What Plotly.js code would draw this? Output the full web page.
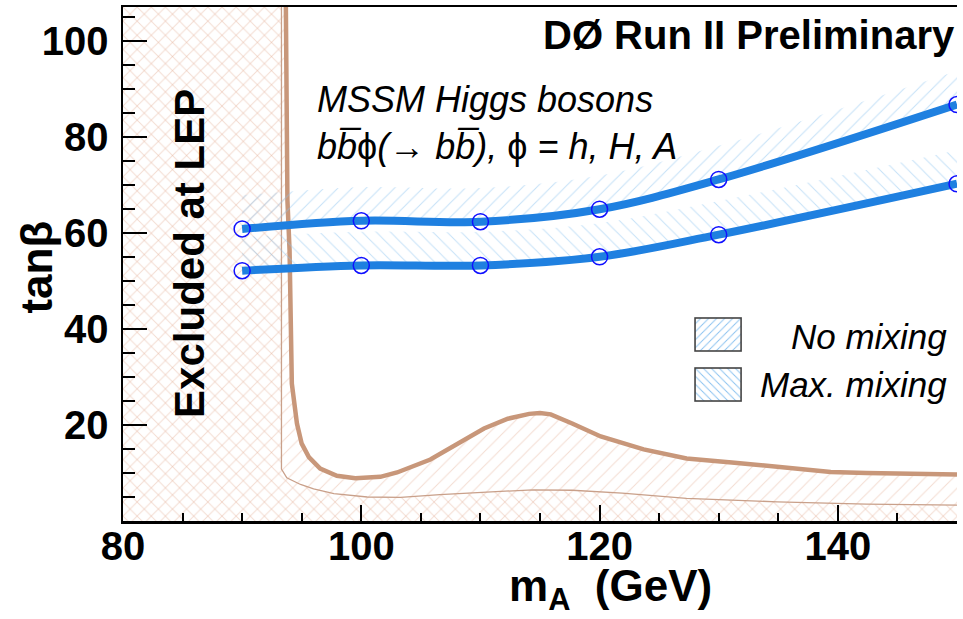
<!DOCTYPE html>
<html>
<head>
<meta charset="utf-8">
<script src="https://cdn.plot.ly/plotly-3.0.1.min.js"></script>
<style>html,body{margin:0;padding:0;background:#fff}#chart{width:963px;height:619px}</style>
</head>
<body>
<div id="chart"></div>
<script>
// ---------- data ----------
const massPoints      = [90, 100, 110, 120, 130, 150];
const limitNoMixing   = [60.8, 62.5, 62.3, 64.9, 71.1, 86.7];
const limitMaxMixing  = [52.1, 53.2, 53.2, 55.0, 59.6, 70.2];

// LEP exclusion, outer (thick) contour
const lepThickX = [93.67, 93.8, 93.98, 94.17, 94.6, 95.0, 95.6, 96.55, 97.95, 99.5, 101.6, 103.0, 105.8, 108.1, 110.3, 112.3, 114.1, 115.0, 115.9, 117.7, 120.1, 123.7, 127.3, 131.1, 135.2, 139.4, 142.4, 150];
const lepThickY = [107, 66.8, 56.4, 28.6, 20.3, 16.1, 13.3, 10.9, 9.4, 8.9, 9.2, 10.1, 12.8, 16.1, 19.25, 21.3, 22.3, 22.5, 22.2, 20.3, 17.6, 14.9, 13.0, 12.2, 11.1, 10.2, 10.0, 9.7];
// LEP exclusion, inner (thin) contour
const lepThinX = [93.3, 93.3, 93.75, 94.9, 96.0, 97.7, 100.5, 103.3, 106.6, 110.8, 114.4, 117.7, 121.9, 127.3, 134.9, 142.4, 150];
const lepThinY = [107, 10.8, 9.0, 7.6, 6.7, 5.7, 5.0, 4.9, 5.5, 6.1, 6.5, 6.4, 5.8, 4.7, 4.0, 3.5, 3.3];

const xTickVals = [80, 100, 120, 140];
const yTickVals = [20, 40, 60, 80, 100];
const seriesNames = ['No mixing', 'Max. mixing'];

// ---------- style ----------
const X_RANGE = [80, 150];
const Y_RANGE = [0, 107];
const HATCH_W = 7;           // width of the hatched band above each limit curve
const FONT = "'Liberation Sans', Arial, Helvetica, sans-serif";
const BLUE = '#1f80e0';
const BLUE_HATCH = 'rgb(140,195,240)';
const BROWN = '#c8977a';
const BROWN_THIN = '#c9a08a';
const BROWN_HATCH = 'rgb(232,185,165)';

function pat(shape, color) {
  return {shape: shape, fgcolor: color, bgcolor: 'rgba(0,0,0,0)', size: 10, solidity: 0.1, fillmode: 'overlay'};
}

const traces = [];
// LEP region fills ('/' below thick contour, '\' below thin contour -> cross-hatch)
traces.push({x: [X_RANGE[0]].concat(lepThickX), y: [Y_RANGE[1]].concat(lepThickY), mode: 'lines',
  line: {width: 0, color: 'rgba(0,0,0,0)'}, fill: 'tozeroy', fillcolor: 'rgba(0,0,0,0)',
  fillpattern: pat('/', BROWN_HATCH), showlegend: false, hoverinfo: 'skip'});
traces.push({x: [X_RANGE[0]].concat(lepThinX), y: [Y_RANGE[1]].concat(lepThinY), mode: 'lines',
  line: {width: 0, color: 'rgba(0,0,0,0)'}, fill: 'tozeroy', fillcolor: 'rgba(0,0,0,0)',
  fillpattern: pat('\\', BROWN_HATCH), showlegend: false, hoverinfo: 'skip'});
traces.push({x: lepThinX, y: lepThinY, mode: 'lines', line: {width: 1.3, color: BROWN_THIN}, showlegend: false});
traces.push({x: lepThickX, y: lepThickY, mode: 'lines', line: {width: 4.5, color: BROWN}, showlegend: false});

// limit curves with hatched bands
[[limitNoMixing, '/'], [limitMaxMixing, '\\']].forEach(function (s, i) {
  traces.push({x: massPoints, y: s[0].map(v => v + HATCH_W), mode: 'lines',
    line: {width: 0, color: 'rgba(0,0,0,0)', shape: 'spline', smoothing: 1}, showlegend: false, hoverinfo: 'skip'});
  traces.push({x: massPoints, y: s[0], name: seriesNames[i], mode: 'lines+markers',
    line: {width: 8, color: BLUE, shape: 'spline', smoothing: 1},
    marker: {symbol: 'circle-open', size: 16, color: '#1010ff', line: {width: 1.5}},
    fill: 'tonexty', fillcolor: 'rgba(0,0,0,0)', fillpattern: pat(s[1], BLUE_HATCH), showlegend: false});
});

function swatch(dir) {
  const d = dir === '/' ? 'M-2,2 l4,-4 M0,8 L8,0 M6,10 l4,-4' : 'M-2,6 l4,4 M0,0 L8,8 M6,-2 l4,4';
  const svg = '<svg xmlns="http://www.w3.org/2000/svg" width="48" height="35" viewBox="0 0 48 35">' +
    '<defs><pattern id="p" patternUnits="userSpaceOnUse" width="8" height="8"><path d="' + d +
    '" stroke="' + BLUE_HATCH + '" stroke-width="1" fill="none"/></pattern></defs>' +
    '<rect x="1" y="1" width="46" height="33" fill="url(#p)" stroke="#444" stroke-width="1.6"/></svg>';
  return 'data:image/svg+xml;charset=utf-8,' + encodeURIComponent(svg);
}

const axisCommon = {showline: true, linewidth: 2.5, linecolor: '#000', showgrid: false, zeroline: false,
  ticks: 'inside', tickwidth: 2, tickcolor: '#000',
  tickfont: {family: FONT, size: 40, weight: 'bold', color: '#000'}};

const layout = {
  width: 963, height: 619,
  margin: {l: 123, r: 6, t: 7, b: 98},
  paper_bgcolor: '#fff', plot_bgcolor: '#fff',
  showlegend: false,
  xaxis: Object.assign({}, axisCommon, {range: X_RANGE, tickmode: 'array', tickvals: xTickVals,
    ticklen: 16, mirror: true, ticklabelstandoff: -12,
    minor: {tickmode: 'linear', tick0: 80, dtick: 5, ticks: 'inside', ticklen: 8, tickwidth: 2, tickcolor: '#000', showgrid: false}}),
  yaxis: Object.assign({}, axisCommon, {range: Y_RANGE, tickmode: 'array', tickvals: yTickVals,
    ticklen: 24, ticklabelstandoff: 4,
    minor: {tickmode: 'linear', tick0: 0, dtick: 5, ticks: 'inside', ticklen: 12, tickwidth: 2, tickcolor: '#000', showgrid: false}}),
  images: [
    {source: swatch('/'), xref: 'paper', yref: 'paper', x: 0.6847, y: 0.3969, sizex: 0.0576, sizey: 0.0681, sizing: 'stretch', xanchor: 'left', yanchor: 'top', layer: 'above'},
    {source: swatch('\\'), xref: 'paper', yref: 'paper', x: 0.6847, y: 0.2996, sizex: 0.0576, sizey: 0.0681, sizing: 'stretch', xanchor: 'left', yanchor: 'top', layer: 'above'}
  ],
  annotations: [
    {text: 'DØ Run II Preliminary', xref: 'paper', yref: 'paper', x: 0.9988, y: 0.9897, xanchor: 'right', yanchor: 'top',
      showarrow: false, borderpad: 0, font: {family: FONT, size: 40, weight: 'bold', color: '#000'}},
    {text: '<i>MSSM Higgs bosons</i><br><i>bb\u0305</i>\u03d5<i>(</i>\u2192 <i>bb\u0305), </i>\u03d5<i> = h, H, A</i>',
      xref: 'x', yref: 'y', x: 96.2, y: 92.3, xanchor: 'left', yanchor: 'top', align: 'left',
      showarrow: false, borderpad: 0, font: {family: FONT, size: 36, color: '#000'}},
    {text: '<i>' + seriesNames[0] + '</i>', xref: 'x', yref: 'y', x: 149.25, y: 42.7, xanchor: 'right', yanchor: 'top',
      showarrow: false, borderpad: 0, font: {family: FONT, size: 35, color: '#000'}},
    {text: '<i>' + seriesNames[1] + '</i>', xref: 'x', yref: 'y', x: 149.25, y: 32.7, xanchor: 'right', yanchor: 'top',
      showarrow: false, borderpad: 0, font: {family: FONT, size: 35, color: '#000'}},
    {text: 'Excluded at LEP', xref: 'x', yref: 'y', x: 85.62, y: 55.8, textangle: -90, xanchor: 'center', yanchor: 'middle',
      showarrow: false, borderpad: 0, font: {family: FONT, size: 42, weight: 'bold', color: '#000'}},
    {text: 'tan\u03b2', xref: 'paper', yref: 'paper', x: -0.1031, y: 0.493, textangle: -90, xanchor: 'center', yanchor: 'middle',
      showarrow: false, borderpad: 0, font: {family: FONT, size: 44, weight: 'bold', color: '#000'}},
    {text: 'm<sub>A</sub>\u00a0\u00a0(GeV)', xref: 'paper', yref: 'paper', x: 0.7074, y: -0.0758, xanchor: 'right', yanchor: 'top',
      showarrow: false, borderpad: 0, font: {family: FONT, size: 44, weight: 'bold', color: '#000'}}
  ]
};

Plotly.newPlot('chart', traces, layout, {staticPlot: true, displayModeBar: false});
</script>
</body>
</html>
